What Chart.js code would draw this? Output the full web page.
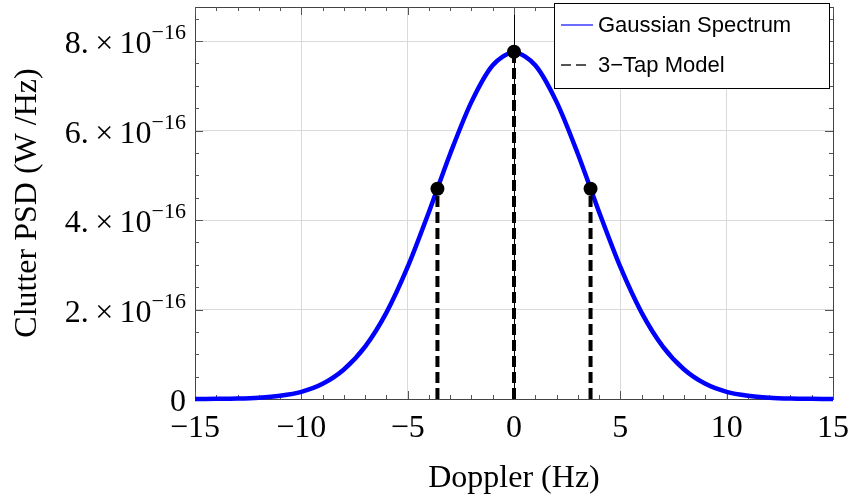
<!DOCTYPE html>
<html>
<head>
<meta charset="utf-8">
<script src="https://cdn.jsdelivr.net/npm/chart.js@4"></script>
<style>
  body { margin: 0; background: #fff; }
  #wrap { width: 855px; height: 504px; }
</style>
</head>
<body>
<div id="wrap"><canvas id="psdChart"></canvas></div>
<script>
// Doppler axis samples (Hz) and clutter PSD, in units of 1e-16 W/Hz
const dopplerHz = [-15, -14, -13, -12, -11, -10, -9, -8, -7, -6, -5, -4, -3, -2, -1, 0,
  1, 2, 3, 4, 5, 6, 7, 8, 9, 10, 11, 12, 13, 14, 15];
const gaussianPsd = [0.001, 0.004, 0.011, 0.030, 0.073, 0.16, 0.34, 0.66, 1.17, 1.93, 2.95, 4.18, 5.48, 6.64, 7.46, 7.75,
  7.46, 6.64, 5.48, 4.18, 2.95, 1.93, 1.17, 0.66, 0.34, 0.16, 0.073, 0.030, 0.011, 0.004, 0.001];

// 3-tap model
const tapDoppler = [-3.6, 0, 3.6];
const tapPsd = [4.70, 7.76, 4.70];

const yTickValues = [0, 2, 4, 6, 8];
const yTickExponent = '\u221216';
const legendLabels = ['Gaussian Spectrum', '3\u2212Tap Model'];

const serif = 'Liberation Serif';
const sans = 'Liberation Sans';

const tapDatasets = tapDoppler.map((x, i) => ({
  label: legendLabels[1],
  data: [{ x: x, y: 0 }, { x: x, y: tapPsd[i] }],
  borderColor: '#000',
  borderWidth: 4,
  borderDash: [11, 5],
  pointRadius: [0, 7],
  pointBackgroundColor: '#000',
  pointBorderWidth: 0,
  order: 0,
  clip: false
}));

const framePlugin = {
  id: 'frame',
  beforeDatasetsDraw(chart) {
    const { ctx, chartArea: a, scales: { x, y } } = chart;
    ctx.save();
    // vertical axis line at x = 0
    const x0 = Math.round(x.getPixelForValue(0)) + 0.5;
    ctx.strokeStyle = '#000';
    ctx.lineWidth = 1;
    ctx.beginPath();
    ctx.moveTo(x0, a.top);
    ctx.lineTo(x0, a.bottom);
    ctx.stroke();

    // frame
    ctx.strokeStyle = '#444';
    ctx.strokeRect(Math.round(a.left) + 0.5, Math.round(a.top) + 0.5, Math.round(a.width), Math.round(a.height));

    // inward ticks
    ctx.strokeStyle = '#555';
    ctx.beginPath();
    for (let v = -15; v <= 15; v++) {
      const px = Math.round(x.getPixelForValue(v)) + 0.5;
      const len = v % 5 === 0 ? 8 : 4;
      ctx.moveTo(px, a.bottom); ctx.lineTo(px, a.bottom - len);
      ctx.moveTo(px, a.top); ctx.lineTo(px, a.top + len);
    }
    for (let k = 0; k <= 17; k++) {
      const py = Math.round(y.getPixelForValue(k / 2)) + 0.5;
      const len = k % 4 === 0 ? 8 : 4;
      ctx.moveTo(a.left, py); ctx.lineTo(a.left + len, py);
      ctx.moveTo(a.right, py); ctx.lineTo(a.right - len, py);
    }
    ctx.stroke();
    ctx.restore();
  },
  afterDraw(chart) {
    const { ctx, chartArea: a, scales: { y } } = chart;
    ctx.save();
    // y tick labels with superscript exponent
    ctx.fillStyle = '#000';
    ctx.textAlign = 'right';
    ctx.textBaseline = 'alphabetic';
    const right = a.left - 9;
    yTickValues.forEach(v => {
      const py = y.getPixelForValue(v);
      if (v === 0) {
        ctx.font = '32px "' + serif + '"';
        ctx.fillText('0', right, py + 12);
        return;
      }
      ctx.font = '22px "' + serif + '"';
      const supW = ctx.measureText(yTickExponent).width;
      ctx.fillText(yTickExponent, right, py - 2);
      ctx.font = '32px "' + serif + '"';
      ctx.fillText(v + '.\u2009\u00d7\u200910', right - supW, py + 12);
    });

    // legend box
    const lx = 554, ly = 3, lw = 275, lh = 85;
    ctx.fillStyle = '#fff';
    ctx.fillRect(lx, ly, lw, lh);
    ctx.strokeStyle = '#000';
    ctx.lineWidth = 1;
    ctx.strokeRect(lx + 0.5, ly + 0.5, lw, lh);

    ctx.lineWidth = 1.5;
    ctx.strokeStyle = '#3b3bff';
    ctx.beginPath(); ctx.moveTo(561, 25); ctx.lineTo(593, 25); ctx.stroke();
    ctx.lineWidth = 2;
    ctx.strokeStyle = '#555';
    ctx.setLineDash([10, 5]);
    ctx.beginPath(); ctx.moveTo(561, 65); ctx.lineTo(586, 65); ctx.stroke();
    ctx.setLineDash([]);

    ctx.fillStyle = '#000';
    ctx.textAlign = 'left';
    ctx.textBaseline = 'middle';
    ctx.font = '22px "' + sans + '"';
    ctx.fillText(legendLabels[0], 598, 26);
    ctx.fillText(legendLabels[1], 598, 66);
    ctx.restore();
  }
};

const gridColor = ctx => {
  const v = ctx.tick ? ctx.tick.value : null;
  return (v === 0 || v === -15 || v === 15) ? 'rgba(0,0,0,0)' : '#d9d9d9';
};

new Chart(document.getElementById('psdChart'), {
  type: 'line',
  data: {
    datasets: [{
      label: legendLabels[0],
      data: dopplerHz.map((x, i) => ({ x: x, y: gaussianPsd[i] })),
      borderColor: '#0000ff',
      borderWidth: 4.5,
      pointRadius: 0,
      tension: 0.3,
      order: 1,
      clip: false
    }, ...tapDatasets]
  },
  options: {
    responsive: true,
    maintainAspectRatio: false,
    animation: false,
    layout: { padding: { top: 4, right: 22, left: 0, bottom: 0 } },
    plugins: {
      legend: { display: false },
      tooltip: { enabled: false }
    },
    scales: {
      x: {
        type: 'linear',
        min: -15,
        max: 15,
        afterFit: s => { s.height = 105; s.paddingLeft = 0; s.paddingRight = 0; },
        ticks: {
          stepSize: 5,
          autoSkip: false,
          maxRotation: 0,
          padding: 10,
          color: '#000',
          font: { family: serif, size: 32 },
          callback: v => v < 0 ? '\u2212' + Math.abs(v) : String(v)
        },
        grid: { color: gridColor, drawTicks: false },
        border: { display: false },
        title: {
          display: true,
          text: 'Doppler (Hz)',
          color: '#000',
          font: { family: serif, size: 32 },
          padding: { top: 0, bottom: 6 }
        }
      },
      y: {
        min: 0,
        max: 8.76,
        afterFit: s => { s.width = 195; s.paddingTop = 0; s.paddingBottom = 0; },
        afterBuildTicks: s => { s.ticks = yTickValues.map(v => ({ value: v })); },
        ticks: { display: false },
        grid: { color: ctx => ctx.tick && ctx.tick.value === 0 ? 'rgba(0,0,0,0)' : '#d9d9d9', drawTicks: false },
        border: { display: false },
        title: {
          display: true,
          text: 'Clutter PSD (W /Hz)',
          color: '#000',
          font: { family: serif, size: 32 },
          padding: { top: 8, bottom: 0 }
        }
      }
    }
  },
  plugins: [framePlugin]
});
</script>
</body>
</html>
